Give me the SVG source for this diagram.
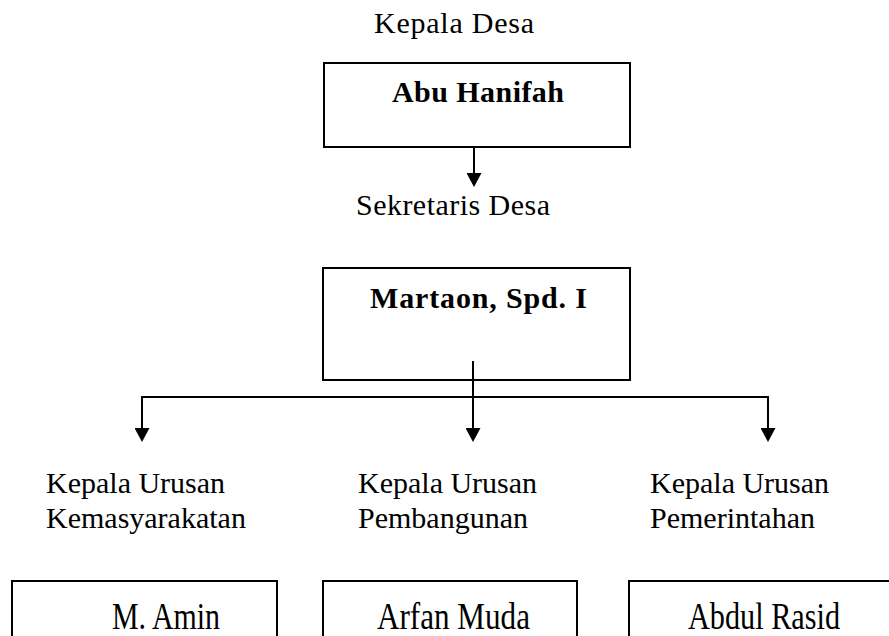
<svg xmlns="http://www.w3.org/2000/svg" width="889" height="636" viewBox="0 0 889 636">
<style>
.t{font-family:"Liberation Serif","Times New Roman",serif;font-size:30px;fill:#000}
.b{font-weight:bold}
.n{font-size:37px}
.box{fill:none;stroke:#000;stroke-width:2}
.ln{fill:none;stroke:#000;stroke-width:2}
</style>
<defs>
<marker id="ah" viewBox="0 0 14 15" refX="11" refY="7.5" markerWidth="14" markerHeight="15" markerUnits="userSpaceOnUse" orient="auto">
<path d="M0,0 L14,7.5 L0,15 z" fill="#000"/>
</marker>
</defs>
<rect width="889" height="636" fill="#fff"/>
<g id="kepala-desa">
<text class="t" x="374" y="33" textLength="160" lengthAdjust="spacing">Kepala Desa</text>
<rect class="box" x="324" y="63" width="306" height="84"/>
<text class="t b" x="392" y="102" textLength="172" lengthAdjust="spacing">Abu Hanifah</text>
</g>
<g id="sekretaris-desa">
<text class="t" x="356" y="215" textLength="194" lengthAdjust="spacing">Sekretaris Desa</text>
<rect class="box" x="323" y="268" width="307" height="112"/>
<text class="t b" x="370" y="308" textLength="217" lengthAdjust="spacing">Martaon, Spd. I</text>
</g>
<g id="kemasyarakatan">
<text class="t" x="46" y="493">Kepala Urusan</text>
<text class="t" x="46" y="528">Kemasyarakatan</text>
<rect class="box" x="12" y="581" width="265" height="70"/>
<text class="t n" x="112" y="629" textLength="108" lengthAdjust="spacingAndGlyphs">M. Amin</text>
</g>
<g id="pembangunan">
<text class="t" x="358" y="493">Kepala Urusan</text>
<text class="t" x="358" y="528">Pembangunan</text>
<rect class="box" x="323" y="581" width="254" height="70"/>
<text class="t n" x="377" y="629" textLength="153" lengthAdjust="spacingAndGlyphs">Arfan Muda</text>
</g>
<g id="pemerintahan">
<text class="t" x="650" y="493">Kepala Urusan</text>
<text class="t" x="650" y="528">Pemerintahan</text>
<rect class="box" x="629" y="581" width="280" height="70"/>
<text class="t n" x="688" y="629" textLength="152" lengthAdjust="spacingAndGlyphs">Abdul Rasid</text>
</g>
<g id="connectors">
<line class="ln" x1="474" y1="147" x2="474" y2="184" marker-end="url(#ah)"/>
<line class="ln" x1="473" y1="361" x2="473" y2="439" marker-end="url(#ah)"/>
<line class="ln" x1="141" y1="397" x2="769" y2="397"/>
<line class="ln" x1="142" y1="396" x2="142" y2="439" marker-end="url(#ah)"/>
<line class="ln" x1="768" y1="396" x2="768" y2="439" marker-end="url(#ah)"/>
</g>
</svg>
